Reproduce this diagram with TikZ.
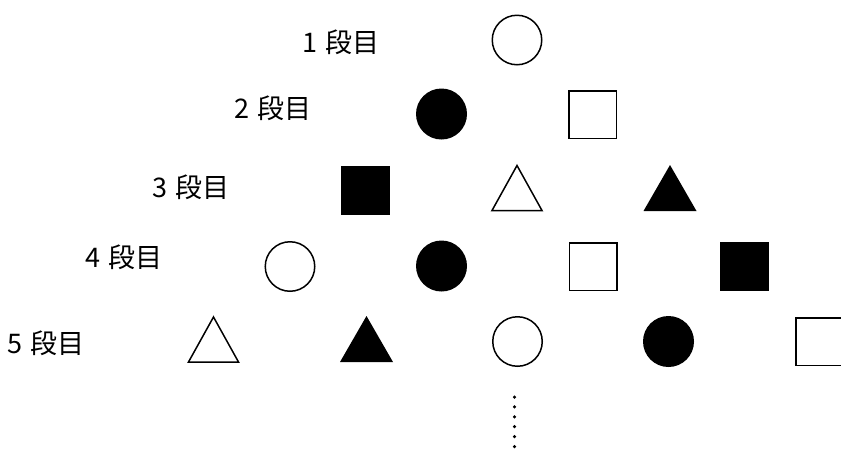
\documentclass[tikz,border=0pt]{standalone}
\usepackage{fontspec}
\newfontfamily\jp{Noto Sans CJK JP}
\begin{document}
\begin{tikzpicture}[x=1pt,y=-1pt,
  shp/.style={line width=1.5pt,inner sep=0pt,outer sep=0pt},
  oc/.style={shp,draw=black,circle,minimum size=49.5pt},
  fc/.style={shp,circle,fill=black,minimum size=51pt},
  osq/.style={shp,draw=black,rectangle,minimum size=47.5pt},
  fsq/.style={shp,rectangle,fill=black,minimum size=49pt},
  lbl/.style={anchor=west,inner sep=0pt,font=\jp\fontsize{27pt}{27pt}\selectfont},
  tri/.pic={\draw[line width=1.5pt,line join=miter] (-25,22.5)--(0,-22.5)--(25,22.5)--cycle;},
  ftri/.pic={\fill (-26.5,23)--(0,-23)--(26.5,23)--cycle;},
]
\useasboundingbox (0,0) rectangle (841,448);
% labels
\node[lbl] (l1) at (302,42) {1\kern8pt 段目};
\node[lbl] (l2) at (234,108) {2\kern8pt 段目};
\node[lbl] (l3) at (152,187) {3\kern8pt 段目};
\node[lbl] (l4) at (85,257) {4\kern8pt 段目};
\node[lbl] (l5) at (7,343) {5\kern8pt 段目};
% row 1
\node[oc] (r1a) at (517,40) {};
% row 2
\node[fc] (r2a) at (441.5,114) {};
\node[osq] (r2b) at (592.5,114.5) {};
% row 3
\node[fsq] (r3a) at (365.5,190.5) {};
\pic (r3b) at (517,188) {tri};
\pic (r3c) at (670,188) {ftri};
% row 4
\node[oc] (r4a) at (290,266.5) {};
\node[fc] (r4b) at (441.5,266) {};
\node[osq] (r4c) at (593,266.5) {};
\node[fsq] (r4d) at (744,266.5) {};
% row 5
\pic (r5a) at (213.5,339.5) {tri};
\pic (r5b) at (366.5,339) {ftri};
\node[oc] (r5c) at (517.5,341.5) {};
\node[fc] (r5d) at (668.5,341.5) {};
\node[osq] (r5e) at (819.5,341.5) {};
% dots
\coordinate (d1) at (514.5,397);
\coordinate (d2) at (514.5,449);
\draw[line width=3.5pt,line cap=round,dash pattern=on 0pt off 9.9pt] (d1) -- (d2);
\end{tikzpicture}
\end{document}
